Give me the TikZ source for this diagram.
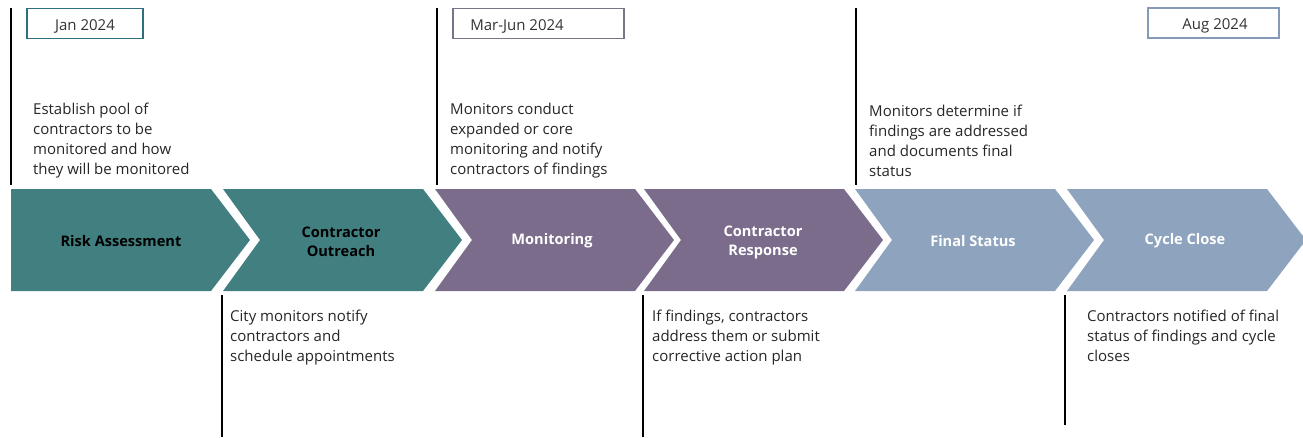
\documentclass[tikz,border=0pt]{standalone}
\usepackage{fontspec}
\setmainfont{Open Sans}
\begin{document}
\definecolor{tealc}{HTML}{417F80}
\definecolor{purplec}{HTML}{7B6C8C}
\definecolor{bluec}{HTML}{8EA3BE}
\definecolor{tealline}{HTML}{2F6F7E}
\definecolor{purpleline}{HTML}{7A7488}
\definecolor{blueline}{HTML}{8799B8}
\begin{tikzpicture}[x=1pt,y=-1pt,
  note/.style={anchor=north west,inner sep=0pt,align=left,
    font=\fontsize{15}{20}\selectfont,text=black!85},
  datebox/.style={draw,line width=1.6pt,minimum height=30pt,
    inner sep=0pt},
  datetext/.style={inner sep=0pt,font=\fontsize{15}{16}\selectfont,text=black!80},
  stagelabel/.style={align=center,inner sep=0pt,
    font=\fontsize{14.6}{19}\selectfont\bfseries},
  tick/.style={line width=1.3pt,black}]
\useasboundingbox (0,0) rectangle (1303,437);

% chevron stages: first one has a flat left side
\fill[tealc] (11,189) -- (211,189) -- (250,240) -- (211,291) -- (11,291) -- cycle;
\foreach \x/\c in {223/tealc,435/purplec,644/purplec,855/bluec,1067/bluec}{
  \fill[\c] (\x,189) -- (\x+200,189) -- (\x+239,240) -- (\x+200,291) -- (\x,291) -- (\x+37,240) -- cycle;
}

\node[stagelabel,text=black] (s1) at (121,241) {Risk Assessment};
\node[stagelabel,text=black] (s2) at (341,242) {Contractor\\Outreach};
\node[stagelabel,text=white] (s3) at (552,241) {Monitoring};
\node[stagelabel,text=white] (s4) at (763,242) {Contractor\\Response};
\node[stagelabel,text=white] (s5) at (973,241) {Final Status};
\node[stagelabel,text=white] (s6) at (1185,241) {Cycle Close};

% milestone ticks above the stages
\coordinate (t1a) at (11,8);   \coordinate (t1b) at (11,185);
\coordinate (t2a) at (437,8);  \coordinate (t2b) at (437,185);
\coordinate (t3a) at (856,8);  \coordinate (t3b) at (856,185);
\draw[tick] (t1a) -- (t1b);
\draw[tick] (t2a) -- (t2b);
\draw[tick] (t3a) -- (t3b);

% milestone ticks below the stages
\coordinate (b1a) at (222,295);  \coordinate (b1b) at (222,437);
\coordinate (b2a) at (643,295);  \coordinate (b2b) at (643,437);
\coordinate (b3a) at (1065,295); \coordinate (b3b) at (1065,425);
\draw[tick] (b1a) -- (b1b);
\draw[tick] (b2a) -- (b2b);
\draw[tick] (b3a) -- (b3b);

% date boxes
\node[datebox,draw=tealline,minimum width=116pt] (d1) at (85,23.5) {};
\node[datebox,draw=purpleline,minimum width=171pt] (d2) at (538.5,23.5) {};
\node[datebox,draw=blueline,minimum width=131pt] (d3) at (1213.5,23) {};
\node[datetext] (d1t) at (85,26) {Jan 2024};
\node[datetext] (d2t) at (517,26) {Mar-Jun 2024};
\node[datetext] (d3t) at (1215,25.5) {Aug 2024};

% descriptions
\node[note] (n1) at (33,102.5) {Establish pool of\\contractors to be\\monitored and how\\they will be monitored};
\node[note] (n2) at (450,102.5) {Monitors conduct\\expanded or core\\monitoring and notify\\contractors of findings};
\node[note] (n3) at (869,104.5) {Monitors determine if\\findings are addressed\\and documents final\\status};
\node[note] (n4) at (230,310) {City monitors notify\\contractors and\\schedule appointments};
\node[note] (n5) at (652,310) {If findings, contractors\\address them or submit\\corrective action plan};
\node[note] (n6) at (1087,310) {Contractors notified of final\\status of findings and cycle\\closes};
\end{tikzpicture}
\end{document}
